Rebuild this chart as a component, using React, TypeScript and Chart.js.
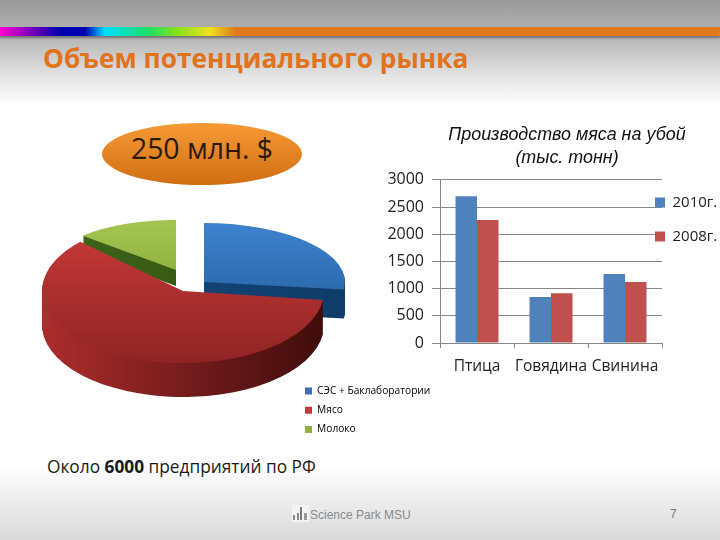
import React, { useEffect, useRef } from "react";
import { Chart, registerables } from "chart.js";

Chart.register(...registerables);

const pieCategories = ["СЭС + Баклаборатории", "Мясо", "Молоко"];
const pieValues = [27, 60, 13];
const barCategories = ["Птица", "Говядина", "Свинина"];
const values2010 = [2700, 848, 1267];
const values2008 = [2260, 915, 1120];
const yTicks = [0, 500, 1000, 1500, 2000, 2500, 3000];
const chartTitleLines = ["Производство мяса на убой", "(тыс. тонн)"];

const PIE_BOX = { left: 0, top: 190, width: 440, height: 250 };
const BAR_BOX = { left: 372, top: 118, width: 348, height: 262 };

// projection of every slice onto the slide: style only, the angles come from the chart
const sliceLook = [
  { cx: 204, cy: 282, rx: 141, ry: 59, depth: 29, top: ["#3f82cf", "#1d5994"], wall: ["#174a80", "#0f3c68"] },
  { cx: 183, cy: 291, rx: 141, ry: 72, depth: 34, top: ["#cc3a3a", "#8f2424"], wall: ["#ad2d2d", "#3f0c0c"] },
  { cx: 176, cy: 270, rx: 128, ry: 50, depth: 16, top: ["#a4c650", "#7d9f33"], wall: ["#3f6418", "#2f5212"] },
];
const pieLegendColors = ["#3f6fb5", "#c0393b", "#8fb040"];

function placeLegend(leg: any, left: number, top: number, pad: number) {
  leg.left = left - pad;
  leg.top = top - pad;
  leg.right = leg.left + leg.width + pad + 20;
  leg.bottom = leg.top + leg.height + pad;
}

const pie3d = {
  id: "pie3d",
  afterLayout(chart: any) {
    if (chart.legend) {
      placeLegend(chart.legend, 305 - PIE_BOX.left, 386 - PIE_BOX.top, chart.options.plugins.legend.labels.padding);
    }
  },
  beforeDatasetDraw(chart: any) {
    const c = chart.ctx;
    const meta = chart.getDatasetMeta(0);
    [2, 0, 1].forEach((i) => {
      const el = meta.data[i];
      const { x, y, startAngle, endAngle, outerRadius } = el.getProps(
        ["x", "y", "startAngle", "endAngle", "outerRadius"],
        true
      );
      const s = sliceLook[i];
      const tx = s.cx - PIE_BOX.left;
      const ty = s.cy - PIE_BOX.top;
      const sx = s.rx / outerRadius;
      const sy = s.ry / outerRadius;
      const g = c.createLinearGradient(tx - s.rx, 0, tx + s.rx, 0);
      g.addColorStop(0, s.wall[0]);
      g.addColorStop(1, s.wall[1]);
      c.fillStyle = g;
      for (let d = s.depth; d >= 1; d--) {
        c.beginPath();
        c.save();
        c.translate(tx, ty + d);
        c.scale(sx, sy);
        c.moveTo(0, 0);
        c.arc(0, 0, outerRadius, startAngle, endAngle);
        c.closePath();
        c.restore();
        c.fill();
      }
      c.save();
      c.translate(tx, ty);
      c.scale(sx, sy);
      c.translate(-x, -y);
      el.draw(c);
      c.restore();
    });
    return false;
  },
};

const barPlacement = {
  id: "barPlacement",
  afterLayout(chart: any) {
    placeLegend(chart.legend, 655 - BAR_BOX.left, 195 - BAR_BOX.top, chart.options.plugins.legend.labels.padding);
    const t = chart.titleBlock;
    t.left += 50;
    t.right += 50;
  },
};

export default function App() {
  const pieRef = useRef<HTMLCanvasElement>(null);
  const barRef = useRef<HTMLCanvasElement>(null);

  useEffect(() => {
    document.body.style.margin = "0";
    const pie = new Chart(pieRef.current!, {
      type: "pie",
      plugins: [pie3d],
      data: {
        labels: pieCategories,
        datasets: [
          {
            data: pieValues,
            borderWidth: 0,
            backgroundColor: (ctx: any) => {
              const a = ctx.chart.chartArea;
              const s = sliceLook[ctx.dataIndex] || sliceLook[0];
              if (!a) return s.top[0];
              const g = ctx.chart.ctx.createLinearGradient(0, a.top, 0, a.bottom);
              g.addColorStop(0, s.top[0]);
              g.addColorStop(1, s.top[1]);
              return g;
            },
          },
        ],
      },
      options: {
        animation: false,
        responsive: false,
        events: [],
        plugins: {
          tooltip: { enabled: false },
          legend: {
            position: "chartArea" as any,
            align: "start",
            labels: {
              boxWidth: 7,
              boxHeight: 7,
              padding: 9,
              color: "#333333",
              font: { family: "'Open Sans'", size: 10.2 },
              generateLabels: () =>
                pieCategories.map((text, index) => ({
                  text,
                  index,
                  fillStyle: pieLegendColors[index],
                  strokeStyle: "transparent",
                  lineWidth: 0,
                  hidden: false,
                })),
            },
          },
        },
      },
    } as any);

    const bar = new Chart(barRef.current!, {
      type: "bar",
      plugins: [barPlacement],
      data: {
        labels: barCategories,
        datasets: [
          { label: "2010г.", data: values2010, backgroundColor: "#4F81BD", categoryPercentage: 0.58, barPercentage: 1 },
          { label: "2008г.", data: values2008, backgroundColor: "#C0504D", categoryPercentage: 0.58, barPercentage: 1 },
        ],
      },
      options: {
        animation: false,
        responsive: false,
        events: [],
        layout: { padding: { left: 0, right: 58, top: 0, bottom: 0 } },
        scales: {
          x: {
            offset: true,
            border: { color: "#868686" },
            grid: { display: true, drawOnChartArea: false, drawTicks: true, tickLength: 5, color: "#868686", offset: true },
            ticks: { color: "#222222", font: { family: "'Open Sans'", size: 15.5 }, maxRotation: 0, autoSkip: false, padding: 9 },
            afterFit: (s: any) => {
              s.height = 380 - 343;
            },
          },
          y: {
            min: 0,
            max: 3000,
            afterBuildTicks: (s: any) => {
              s.ticks = yTicks.map((value) => ({ value }));
            },
            border: { color: "#868686" },
            grid: { color: "#868686", tickLength: 8 },
            ticks: {
              color: "#222222",
              font: { family: "'Open Sans'", size: 16 },
              padding: 8,
              callback: (v: any) => String(v),
            },
            afterFit: (s: any) => {
              s.width = 68;
            },
          },
        },
        plugins: {
          tooltip: { enabled: false },
          title: {
            display: true,
            text: chartTitleLines,
            color: "#111111",
            font: { family: "'Liberation Sans'", size: 17.9, style: "italic", weight: "normal", lineHeight: 1.28 },
            padding: { top: 6, bottom: 10 },
          },
          legend: {
            position: "chartArea" as any,
            align: "start",
            labels: {
              boxWidth: 10,
              boxHeight: 10,
              padding: 19,
              color: "#222222",
              font: { family: "'Open Sans'", size: 15 },
            },
          },
        },
      },
    } as any);

    return () => {
      pie.destroy();
      bar.destroy();
    };
  }, []);

  return (
    <div
      style={{
        position: "relative",
        width: 720,
        height: 540,
        overflow: "hidden",
        fontFamily: "'Open Sans', sans-serif",
        background:
          "linear-gradient(to bottom, #9a9a9a 0px, #b4b4b4 36px, #e8e8e8 80px, #ffffff 105px, #ffffff 465px, #d9d9d9 540px)",
      }}
    >
      <div
        style={{
          position: "absolute",
          left: 0,
          top: 27,
          width: 720,
          height: 9,
          boxShadow: "0 2px 2px rgba(70,70,70,0.6)",
          background:
            "linear-gradient(to right, #ff00d0 0, #0000b0 60px, #0000b0 85px, #00e0ff 105px, #20e060 150px, #80e020 175px, #f0e020 210px, #e07a1c 235px, #e07a1c 720px)",
        }}
      />
      <div
        style={{
          position: "absolute",
          left: 43,
          top: 40,
          color: "#E0731C",
          fontSize: 26.3,
          fontWeight: 700,
          lineHeight: "36px",
          whiteSpace: "nowrap",
        }}
      >
        Объем потенциального рынка
      </div>
      <div
        style={{
          position: "absolute",
          left: 102,
          top: 123,
          width: 200,
          height: 62,
          borderRadius: "50%",
          background: "linear-gradient(to bottom, #f79a35, #cf6f12)",
          color: "#2a1a0a",
          fontSize: 28.4,
          lineHeight: "50px",
          textAlign: "center",
        }}
      >
        250 млн. $
      </div>
      <canvas
        ref={pieRef}
        width={PIE_BOX.width}
        height={PIE_BOX.height}
        style={{ position: "absolute", left: PIE_BOX.left, top: PIE_BOX.top, width: PIE_BOX.width, height: PIE_BOX.height }}
      />
      <canvas
        ref={barRef}
        width={BAR_BOX.width}
        height={BAR_BOX.height}
        style={{ position: "absolute", left: BAR_BOX.left, top: BAR_BOX.top, width: BAR_BOX.width, height: BAR_BOX.height }}
      />
      <div
        style={{
          position: "absolute",
          left: 47,
          top: 455,
          color: "#1a1a1a",
          fontSize: 17.3,
          lineHeight: "24px",
          whiteSpace: "nowrap",
        }}
      >
        Около <b>6000</b> предприятий по РФ
      </div>
      <svg style={{ position: "absolute", left: 292, top: 505 }} width="17" height="17" viewBox="0 0 17 17">
        <rect x="0" y="0" width="17" height="17" fill="#f4f4f4" />
        <rect x="1" y="10" width="2" height="5" fill="#8a8a8a" />
        <rect x="5" y="8" width="2" height="7" fill="#8a8a8a" />
        <rect x="8" y="2" width="2" height="13" fill="#7a7a7a" />
        <rect x="12" y="8" width="3" height="7" fill="#9a9a9a" />
      </svg>
      <div
        style={{
          position: "absolute",
          left: 310,
          top: 507,
          color: "#8a8a8a",
          fontFamily: "'Liberation Sans'",
          fontSize: 12,
          lineHeight: "16px",
          whiteSpace: "nowrap",
        }}
      >
        Science Park MSU
      </div>
      <div
        style={{
          position: "absolute",
          left: 670,
          top: 506,
          color: "#777777",
          fontFamily: "'Liberation Sans'",
          fontSize: 12,
          lineHeight: "16px",
        }}
      >
        7
      </div>
    </div>
  );
}
